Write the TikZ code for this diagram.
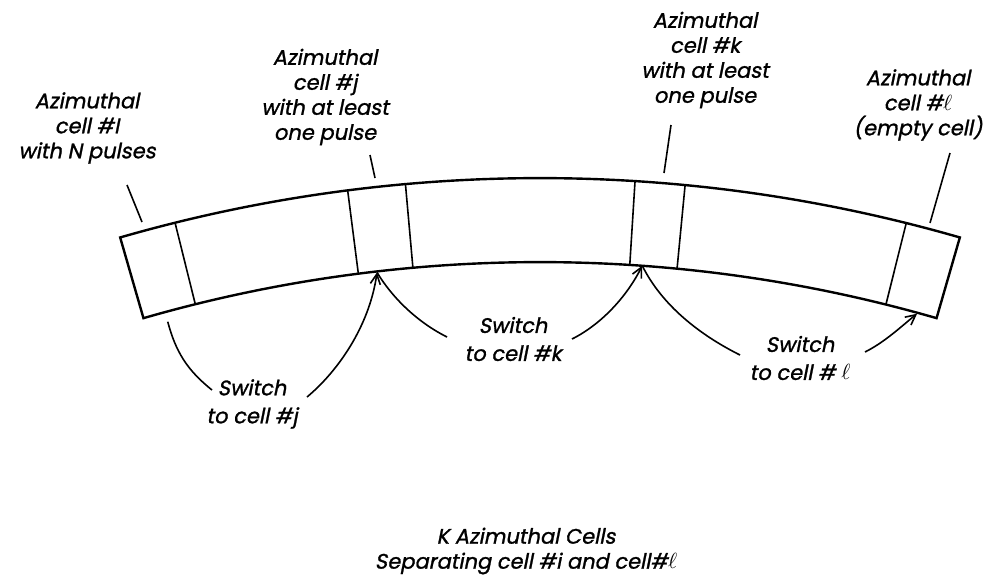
\documentclass[tikz,border=0pt]{standalone}
\usepackage{fontspec}
\setmainfont{Poppins}[AutoFakeSlant=0.2, ItalicFeatures={FakeBold=1.2}]
\usepackage{tikz}
\usetikzlibrary{arrows.meta}

\tikzset{
  lbl/.style={font=\itshape\fontsize{10.5}{12.5}\selectfont, align=center, inner sep=0pt},
  swlbl/.style={lbl, font=\itshape\fontsize{10.5}{14}\selectfont},
  lead/.style={thick},
  swline/.style={thick},
  swarrow/.style={thick, -{Straight Barb[length=5pt,width=5pt]}},
}

\begin{document}
\begin{tikzpicture}[x=0.5pt, y=-0.5pt]
  \useasboundingbox (0,0) rectangle (988,580);

  % Azimuthal band and cells
  \begin{scope}[shift={(540,1692)}]
    \draw[very thick] (-106.1:1514) arc[start angle=-106.1, end angle=-73.9, radius=1514]
      -- (-73.9:1430) arc[start angle=-73.9, end angle=-106.1, radius=1430] -- cycle;
    \foreach \a in {-103.95, -97.3, -95.1, -86.4, -84.5, -76.0}
      \draw[thick] (\a:1430) -- (\a:1514);
    \coordinate (ci) at (-105.2:1420);
    \coordinate (cj) at (-96.55:1429);
    \coordinate (ck) at (-85.9:1430);
    \coordinate (cl) at (-74.7:1429);
  \end{scope}

  % Cell labels
  \node[lbl] (labi) at (87,128) {Azimuthal\\cell \#I\\with N pulses};
  \node[lbl] (labj) at (325,97) {Azimuthal\\cell \#j\\with at least\\one pulse};
  \node[lbl] (labk) at (705,60) {Azimuthal\\cell \#k\\with at least\\one pulse};
  \node[lbl] (labl) at (918,105) {Azimuthal\\cell \#$\ell$\\(empty cell)};

  % Leaders
  \coordinate (li1) at (127,185); \coordinate (li2) at (142,222);
  \coordinate (lj1) at (370,155); \coordinate (lj2) at (375,178);
  \coordinate (lk1) at (671,125); \coordinate (lk2) at (664,173);
  \coordinate (ll1) at (950,153); \coordinate (ll2) at (930,223);
  \draw[lead] (li1) -- (li2);
  \draw[lead] (lj1) -- (lj2);
  \draw[lead] (lk1) -- (lk2);
  \draw[lead] (ll1) -- (ll2);

  % Switches
  \node[swlbl] (swj) at (252,404) {Switch\\to cell \#j};
  \node[swlbl] (swk) at (513,339) {Switch\\to cell \#k};
  \node[swlbl] (swl) at (800,358) {Switch\\to cell \# $\ell$};
  \coordinate (w1a) at (212,390); \coordinate (w1b) at (307,397);
  \coordinate (w2a) at (447,337); \coordinate (w2b) at (572,339);
  \coordinate (w3a) at (740,355); \coordinate (w3b) at (865,352);
  \draw[swline] (ci) .. controls +(8,30) and +(-25,-20) .. (w1a);
  \draw[swarrow] (w1b) .. controls +(30,-25) and +(-8,55) .. (cj);
  \draw[swline] (cj) .. controls +(15,25) and +(-30,-15) .. (w2a);
  \draw[swarrow] (w2b) .. controls +(30,-15) and +(-15,30) .. (ck);
  \draw[swline] (ck) .. controls +(20,40) and +(-40,-20) .. (w3a);
  \draw[swarrow] (w3b) .. controls +(20,-10) and +(-15,12) .. (cl);

  % Caption
  \node[lbl] (capt) at (526,551) {K Azimuthal Cells\\Separating cell \#i and cell\#$\ell$};
\end{tikzpicture}
\end{document}
